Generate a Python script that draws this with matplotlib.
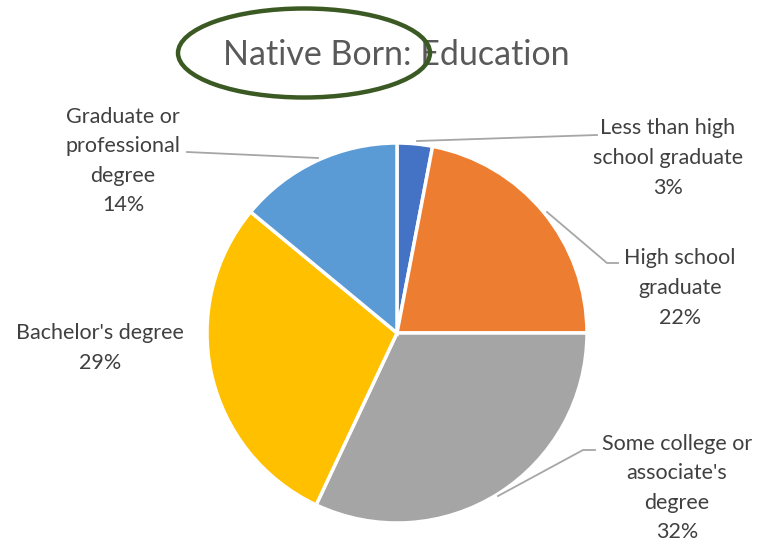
import matplotlib.pyplot as plt
from matplotlib.patches import Ellipse

categories = ["Less than high\nschool graduate", "High school\ngraduate",
              "Some college or\nassociate's\ndegree", "Bachelor's degree",
              "Graduate or\nprofessional\ndegree"]
shares = [3, 22, 32, 29, 14]
colors = ["#4472C4", "#ED7D31", "#A5A5A5", "#FFC000", "#5B9BD5"]
title = "Native Born: Education"

W, H = 761, 542
plt.rcParams['font.family'] = ['Lato', 'DejaVu Sans']

fig = plt.figure(figsize=(W / 100, H / 100), dpi=100)
ax = fig.add_axes([0, 0, 1, 1])
ax.set_xlim(0, W)
ax.set_ylim(0, H)
ax.set_aspect('equal')
ax.axis('off')

cx, cy, r = 397, H - 333, 190
ax.pie(shares, colors=colors, startangle=90, counterclock=False,
       center=(cx, cy), radius=r,
       wedgeprops=dict(edgecolor='white', linewidth=2.5))
ax.set_xlim(0, W)
ax.set_ylim(0, H)

# label positions (pixel coords from top-left) and leader lines
label_pos = [(668, 158), (680, 288), (677, 488), (100, 348), (123, 161)]
leaders = [
    [(417, 141), (597, 135)],
    [(547, 212), (607, 263), (618, 263)],
    [(498, 496), (583, 450), (595, 450)],
    None,
    [(318, 158), (187, 152)],
]
for cat, val, (lx, ly), ld in zip(categories, shares, label_pos, leaders):
    ax.text(lx, H - ly, f"{cat}\n{val}%", ha='center', va='center',
            fontsize=15.5, color='#404040', linespacing=1.6)
    if ld:
        xs = [p[0] for p in ld]
        ys = [H - p[1] for p in ld]
        ax.plot(xs, ys, color='#A6A6A6', lw=1.3)

ax.text(396, H - 55, title, ha='center', va='center', fontsize=24.5, color='#595959')
ax.add_patch(Ellipse((304, H - 53), 252, 89, fill=False,
                     edgecolor='#3B5A23', lw=3.2, zorder=5))

fig.savefig('out.png', dpi=100)
